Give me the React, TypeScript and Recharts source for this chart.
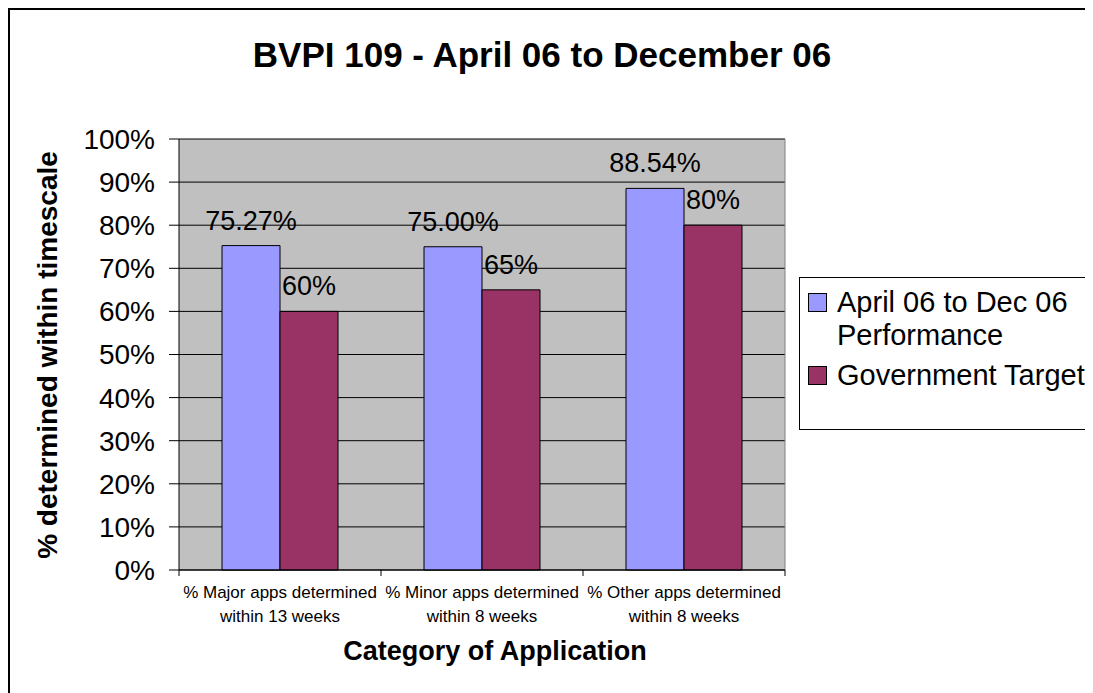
import React from 'react';
import { BarChart, Bar, XAxis, YAxis, CartesianGrid, Legend, LabelList } from 'recharts';

const categories = [
  '% Major apps determined\nwithin 13 weeks',
  '% Minor apps determined\nwithin 8 weeks',
  '% Other apps determined\nwithin 8 weeks',
];
const performance = [75.27, 75.0, 88.54];
const target = [60, 65, 80];
const yTicks = [0, 10, 20, 30, 40, 50, 60, 70, 80, 90, 100];
const seriesNames = ['April 06 to Dec 06 Performance', 'Government Target'];

const FONT = '"Liberation Sans", Arial, sans-serif';
const W = 1083;
const H = 683;
const margin = { top: 129, right: 308, bottom: 53, left: 0 };
const Y_AXIS_W = 169;
const PLOT_RIGHT = W - margin.right;
const BAND = (PLOT_RIGHT - Y_AXIS_W) / categories.length;

const data = categories.map((category, i) => ({
  category,
  performance: performance[i],
  target: target[i],
}));

const CategoryTick = (props: any) => {
  const { x, y, payload, index } = props;
  const lines = String(payload.value).split('\n');
  return (
    <g>
      <line x1={x - BAND / 2} x2={x - BAND / 2} y1={y} y2={y + 6} stroke="#000" />
      {index === categories.length - 1 && (
        <line x1={x + BAND / 2} x2={x + BAND / 2} y1={y} y2={y + 6} stroke="#000" />
      )}
      <text x={x} y={y} textAnchor="middle" fontSize={17} fontFamily={FONT} fill="#000">
        {lines.map((l, i) => (
          <tspan key={i} x={x} y={y + 28 + i * 24}>
            {l}
          </tspan>
        ))}
      </text>
    </g>
  );
};

const valueLabel = (decimals: number) => (props: any) => {
  const { x, y, width, value } = props;
  return (
    <text
      x={Number(x) + Number(width) / 2}
      y={Number(y) - 16}
      textAnchor="middle"
      fontSize={27}
      fontFamily={FONT}
      fill="#000"
    >
      {Number(value).toFixed(decimals)}%
    </text>
  );
};

const renderLegend = (props: any) => {
  const items = props.payload || [];
  return (
    <div
      style={{
        boxSizing: 'border-box',
        width: '100%',
        height: '100%',
        border: '1px solid #000',
        background: '#fff',
        paddingTop: 8,
        fontFamily: FONT,
        fontSize: 29,
        lineHeight: '33px',
        color: '#000',
      }}
    >
      {items.map((it: any, i: number) => (
        <div key={i} style={{ position: 'relative', paddingLeft: 37, marginBottom: 7, width: 256 }}>
          <span
            style={{
              position: 'absolute',
              left: 8,
              top: 7,
              width: 17,
              height: 17,
              background: it.color,
              border: '1px solid #000',
            }}
          />
          <span>{it.value}</span>
        </div>
      ))}
    </div>
  );
};

export default function App() {
  return (
    <div
      style={{
        width: 1120,
        height: 720,
        borderLeft: '2px solid #000',
        borderTop: '2px solid #000',
        fontFamily: FONT,
        background: '#fff',
      }}
    >
      <style>{'html,body{overflow:hidden}'}</style>
      <BarChart width={W} height={H} data={data} margin={margin} barGap={0} barSize={58}>
        <CartesianGrid vertical={false} stroke="#000" fill="#C0C0C0" fillOpacity={1} />
        <CartesianGrid horizontal={false} verticalPoints={[PLOT_RIGHT]} stroke="#808080" />
        <XAxis
          dataKey="category"
          height={70}
          interval={0}
          axisLine={{ stroke: '#000' }}
          tickLine={false}
          tickSize={0}
          tickMargin={0}
          tick={<CategoryTick />}
        />
        <YAxis
          width={Y_AXIS_W}
          domain={[0, 100]}
          ticks={yTicks}
          interval={0}
          tickFormatter={(v: number) => `${v}%`}
          axisLine={{ stroke: '#000' }}
          tickLine={{ stroke: '#000' }}
          tickSize={10}
          tickMargin={14}
          tick={{ fontSize: 28, fontFamily: FONT, fill: '#000' }}
        />
        <Legend
          layout="horizontal"
          align="center"
          verticalAlign="middle"
          content={renderLegend}
          wrapperStyle={{ position: 'absolute', left: 789, top: 267, width: 330, height: 153 }}
        />
        <Bar
          dataKey="performance"
          name={seriesNames[0]}
          fill="#9999FF"
          stroke="#000"
          strokeWidth={1}
          isAnimationActive={false}
        >
          <LabelList dataKey="performance" content={valueLabel(2)} />
        </Bar>
        <Bar
          dataKey="target"
          name={seriesNames[1]}
          fill="#993366"
          stroke="#000"
          strokeWidth={1}
          isAnimationActive={false}
        >
          <LabelList dataKey="target" content={valueLabel(0)} />
        </Bar>
        <text x={532} y={57} textAnchor="middle" fontSize={35} fontWeight="bold" fontFamily={FONT} fill="#000">
          BVPI 109 - April 06 to December 06
        </text>
        <text
          x={37}
          y={345}
          transform="rotate(-90 37 345)"
          textAnchor="middle"
          dominantBaseline="central"
          fontSize={28}
          fontWeight="bold"
          fontFamily={FONT}
          fill="#000"
        >
          % determined within timescale
        </text>
        <text x={485} y={650} textAnchor="middle" fontSize={27} fontWeight="bold" fontFamily={FONT} fill="#000">
          Category of Application
        </text>
      </BarChart>
    </div>
  );
}
